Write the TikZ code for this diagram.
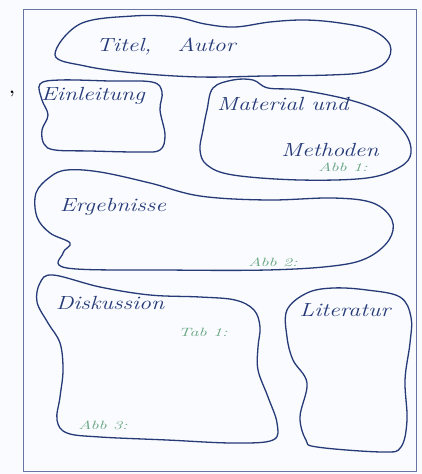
\documentclass[tikz,border=0pt]{standalone}
\usepackage{tikz}
\usepackage{xcolor}
\definecolor{ink}{RGB}{38,58,120}
\definecolor{pencil}{RGB}{105,165,130}
\definecolor{paper}{RGB}{249,251,254}
% handwriting runs wide: stretch the text sideways
\newcommand{\handwide}[1]{\scalebox{1.25}[1]{#1}}
\newcommand{\notewide}[1]{\scalebox{1.5}[1]{#1}}
\tikzset{
  blob/.style={ % hand-drawn outline of a poster section
    draw=ink, line width=1.3pt, line join=round
  },
  heading/.style={ % title written into a section
    text=ink, inner sep=0pt,
    font=\fontsize{19}{19}\selectfont\itshape
  },
  figref/.style={ % small pencil note for a figure or table
    text=pencil, inner sep=0pt,
    font=\fontsize{12}{12}\selectfont\itshape
  },
  sheet/.style={ % the poster sheet
    draw=ink!70, line width=0.8pt
  }
}

\begin{document}
\begin{tikzpicture}[x=1pt, y=-1pt]
  \fill[paper] (0,0) rectangle (422,474);
  \useasboundingbox (0,0) rectangle (422,474);

  \draw[sheet] (23,9) rectangle (416,471);
  \node[text=black, font=\bfseries\LARGE] (comma) at (12,94) {,};

  % sections
  \draw[blob] plot[smooth cycle, tension=0.6] coordinates {
    (55,55) (80,24) (133,16) (175,17) (205,24) (235,27) (270,22) (305,20)
    (340,23) (372,30) (390,45) (386,62) (365,72) (330,75) (265,76) (200,77)
    (135,73) (85,66)};
  \draw[blob] plot[smooth cycle, tension=0.6] coordinates {
    (40,84) (60,80) (110,81) (152,82) (162,92) (160,110) (165,135) (160,150)
    (140,152) (90,151) (55,150) (44,144) (42,130) (48,115) (42,100)};
  \draw[blob] plot[smooth cycle, tension=0.6] coordinates {
    (213,88) (233,80) (253,80) (268,88) (300,90) (350,100) (383,113) (405,133)
    (411,153) (400,167) (367,178) (300,180) (233,175) (207,165) (200,150)
    (203,130) (207,110)};
  \draw[blob] plot[smooth cycle, tension=0.6] coordinates {
    (50,177) (67,170) (100,172) (150,183) (200,196) (267,200) (333,198)
    (373,203) (392,220) (389,240) (367,258) (333,266) (267,270) (167,270)
    (67,268) (63,253) (70,243) (50,233) (37,217) (36,193)};
  \draw[blob] plot[smooth cycle, tension=0.6] coordinates {
    (53,275) (100,287) (150,295) (200,297) (235,300) (254,310) (260,327)
    (258,347) (258,370) (268,397) (277,423) (273,440) (233,443) (167,440)
    (100,437) (67,433) (57,420) (60,397) (63,370) (60,343) (48,323) (37,302)
    (40,283)};
  \draw[blob] plot[smooth cycle, tension=0.6] coordinates {
    (287,310) (307,293) (333,288) (367,290) (400,297) (411,317) (410,343)
    (405,380) (407,420) (401,447) (383,452) (317,447) (306,440) (300,417)
    (307,383) (293,360) (287,337)};

  % headings and notes
  \node[heading] (titel) at (166,47) {\handwide{Titel,\hspace{1.1em}Autor}};
  \node[heading] (einleitung) at (93,96) {\handwide{Einleitung}};
  \node[heading] (material) at (283,104) {\handwide{Material und}};
  \node[heading] (methoden) at (330,150) {\handwide{Methoden}};
  \node[figref] (abb1) at (343,167) {\notewide{Abb 1:}};
  \node[heading] (ergebnisse) at (113,207) {\handwide{Ergebnisse}};
  \node[figref] (abb2) at (273,262) {\notewide{Abb 2:}};
  \node[heading] (diskussion) at (110,303) {\handwide{Diskussion}};
  \node[figref] (tab1) at (203,332) {\notewide{Tab 1:}};
  \node[figref] (abb3) at (103,425) {\notewide{Abb 3:}};
  \node[heading] (literatur) at (345,310) {\handwide{Literatur}};
\end{tikzpicture}
\end{document}
